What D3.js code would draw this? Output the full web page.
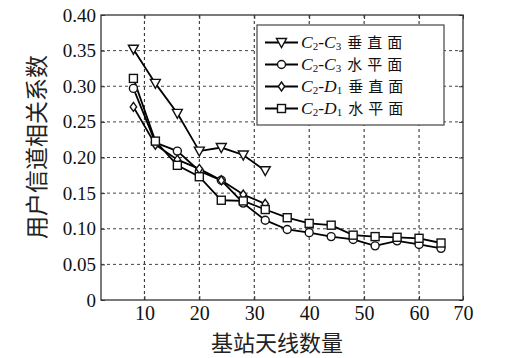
<!DOCTYPE html>
<html><head><meta charset="utf-8">
<script src="https://cdn.jsdelivr.net/npm/d3@7"></script>
<style>body{margin:0;background:#fff}svg{display:block}</style>
</head><body><svg id="c" width="510" height="358"></svg>
<script>
const antennas = [8,12,16,20,24,28,32,36,40,44,48,52,56,60,64];
const c2c3V = [0.352,0.304,0.262,0.209,0.214,0.2035,0.1815];
const c2c3H = [0.297,0.221,0.209,0.181,0.168,0.136,0.112,0.099,0.0945,0.089,0.085,0.076,0.083,0.078,0.0725];
const c2d1V = [0.271,0.218,0.197,0.184,0.168,0.148,0.135];
const c2d1H = [0.311,0.223,0.189,0.173,0.140,0.139,0.127,0.1155,0.1075,0.105,0.091,0.089,0.088,0.0866,0.080];
const seriesNames = [["C","2","C","3","垂直面"],["C","2","C","3","水平面"],["C","2","D","1","垂直面"],["C","2","D","1","水平面"]];
const seriesMarkers = ["tri","circle","diamond","square"];
const xTicks = [10,20,30,40,50,60,68];
const xTickLabels = ["10","20","30","40","50","60","70"];
const yTicks = [0,0.05,0.10,0.15,0.20,0.25,0.30,0.35,0.40];
const yTickLabels = ["0","0.05","0.10","0.15","0.20","0.25","0.30","0.35","0.40"];
const xTitle = "基站天线数量";
const yTitle = "用户信道相关系数";

const svg = d3.select("#c");
const L=101, R=463, T=15, B=300;
const x = d3.scaleLinear().domain([2.1,68]).range([L,R]);
const y = d3.scaleLinear().domain([0,0.4]).range([B,T]);
const serif = "'Liberation Serif','Times New Roman',serif";
const cjk = "'Noto Sans CJK SC','Noto Sans',sans-serif";

// grid
const g = svg.append("g");
g.selectAll("line.gx").data(xTicks.filter(v=>v<68)).join("line")
  .attr("x1",d=>x(d)).attr("x2",d=>x(d)).attr("y1",T).attr("y2",B)
  .attr("stroke","#222").attr("stroke-width",1).attr("stroke-dasharray","3,3");
g.selectAll("line.gy").data(yTicks.filter(v=>v>0&&v<0.4)).join("line")
  .attr("x1",L).attr("x2",R).attr("y1",d=>y(d)).attr("y2",d=>y(d))
  .attr("stroke","#444").attr("stroke-width",1).attr("stroke-dasharray","3,3");

// axes
const xAxis = d3.axisBottom(x).tickValues(xTicks).tickSize(-4).tickPadding(6)
  .tickFormat((d,i)=>xTickLabels[i]);
const xa = svg.append("g").attr("transform",`translate(0,${B})`).call(xAxis);
xa.select(".domain").remove();
xa.selectAll("text").attr("font-family",serif).attr("font-size",20).attr("fill","#111");
const yAxis = d3.axisLeft(y).tickValues(yTicks).tickSize(-4).tickPadding(5)
  .tickFormat((d,i)=>yTickLabels[i]);
const ya = svg.append("g").attr("transform",`translate(${L},0)`).call(yAxis);
ya.select(".domain").remove();
ya.selectAll("text").attr("font-family",serif).attr("font-size",19).attr("fill","#111");
// top/right ticks
svg.append("g").attr("transform",`translate(0,${T})`).call(d3.axisTop(x).tickValues(xTicks).tickSize(-4).tickFormat(""))
  .select(".domain").remove();
svg.append("g").attr("transform",`translate(${R},0)`).call(d3.axisRight(y).tickValues(yTicks).tickSize(-4).tickFormat(""))
  .select(".domain").remove();
svg.selectAll(".tick line").attr("stroke","#333");
svg.append("rect").attr("x",L).attr("y",T).attr("width",R-L).attr("height",B-T)
  .attr("fill","none").attr("stroke","#333").attr("stroke-width",1.3);

// titles
svg.append("text").attr("x",277).attr("y",351).attr("text-anchor","middle")
  .attr("font-family",cjk).attr("font-size",22).attr("fill","#222").text(xTitle);
svg.append("text").attr("transform","translate(45,147) rotate(-90)").attr("text-anchor","middle")
  .attr("font-family",cjk).attr("font-size",23).attr("fill","#222").text(yTitle);

// markers
function marker(sel, type){
  if(type==="tri") sel.append("path").attr("d","M-5,-4L5,-4L0,5Z");
  else if(type==="circle") sel.append("circle").attr("r",4);
  else if(type==="diamond") sel.append("path").attr("d","M0,-4.5L3.2,0L0,4.5L-3.2,0Z");
  else sel.append("rect").attr("x",-4).attr("y",-4).attr("width",8).attr("height",8);
  sel.selectAll("*").attr("fill","#fff").attr("stroke","#111").attr("stroke-width",1.4);
}
const allSeries = [c2c3V,c2c3H,c2d1V,c2d1H];
const line = d3.line().x(d=>x(d[0])).y(d=>y(d[1]));
allSeries.forEach((vals,si)=>{
  const pts = vals.map((v,i)=>[antennas[i],v]);
  svg.append("path").datum(pts).attr("d",line).attr("fill","none").attr("stroke","#000").attr("stroke-width",1.8);
});
allSeries.forEach((vals,si)=>{
  vals.forEach((v,i)=>{
    const m = svg.append("g").attr("transform",`translate(${x(antennas[i])},${y(v)})`);
    marker(m, seriesMarkers[si]);
  });
});

// legend
const lg = svg.append("g");
lg.append("rect").attr("x",257).attr("y",25).attr("width",187).attr("height",100)
  .attr("fill","#fff").attr("stroke","#444").attr("stroke-width",1.2);
seriesNames.forEach((nm,i)=>{
  const cy = 42.5 + i*22;
  lg.append("line").attr("x1",265).attr("x2",298).attr("y1",cy).attr("y2",cy).attr("stroke","#000").attr("stroke-width",1.8);
  const m = lg.append("g").attr("transform",`translate(281.5,${cy})`);
  marker(m, seriesMarkers[i]);
  const t = lg.append("text").attr("x",301).attr("y",cy+5.5).attr("font-family",serif).attr("font-size",17.5).attr("fill","#111");
  t.append("tspan").attr("font-style","italic").text(nm[0]);
  t.append("tspan").attr("font-size",11).attr("dy",2).text(nm[1]);
  t.append("tspan").attr("dy",-2).text("-");
  t.append("tspan").attr("font-style","italic").text(nm[2]);
  t.append("tspan").attr("font-size",11).attr("dy",2).text(nm[3]);
  t.append("tspan").attr("dy",-2).attr("dx",6).attr("font-family",cjk).attr("font-size",15).attr("letter-spacing",5).text(nm[4]);
});
</script></body></html>
